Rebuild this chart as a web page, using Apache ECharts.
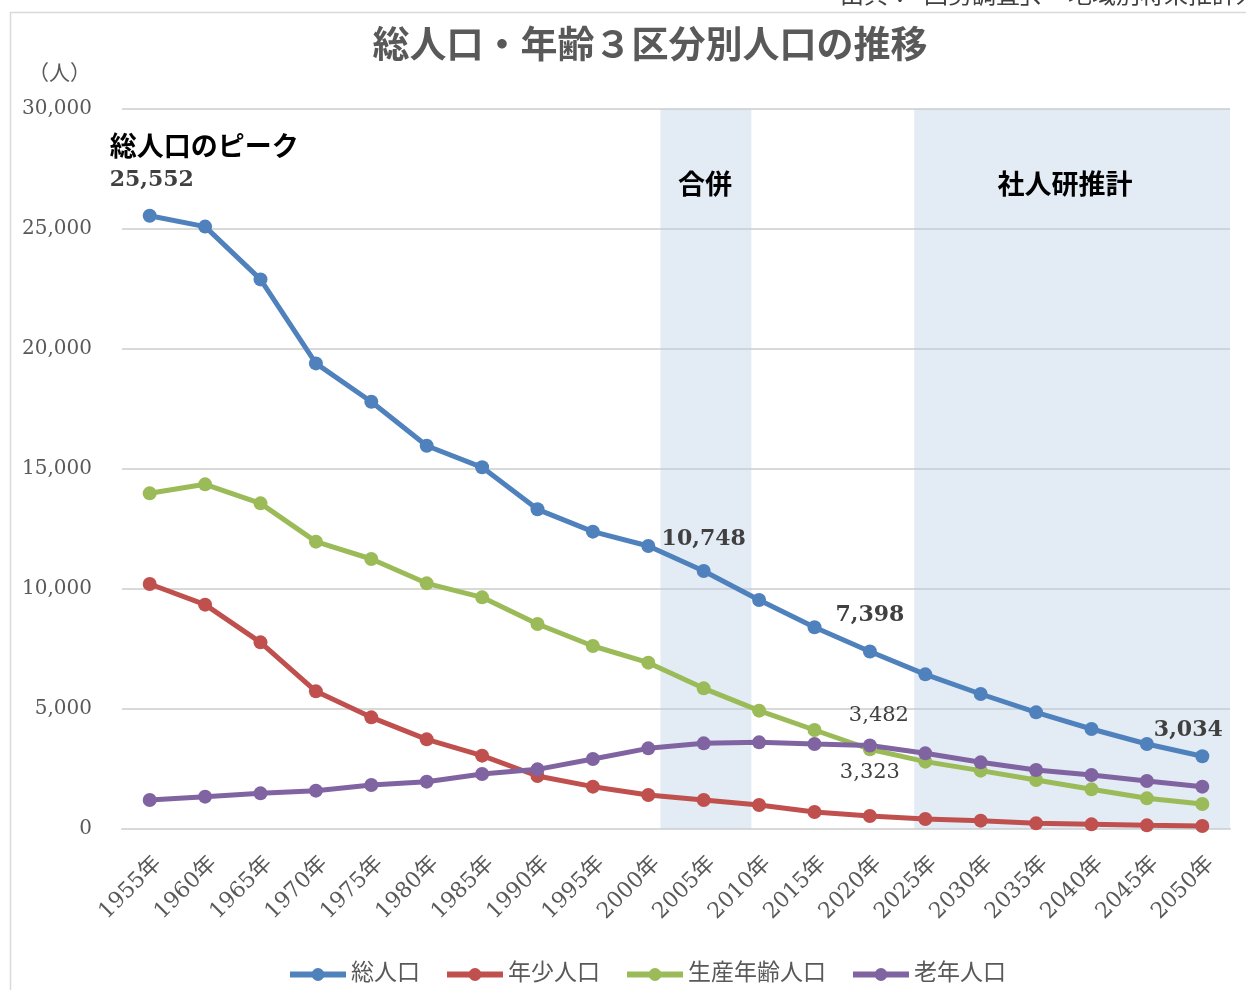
<!DOCTYPE html>
<html>
<head>
<meta charset="utf-8">
<title>総人口・年齢3区分別人口の推移</title>
<script src="https://cdn.jsdelivr.net/npm/echarts@6/dist/echarts.min.js"></script>
<style>
  html, body { margin: 0; padding: 0; background: #fff; }
  #chart { width: 1246px; height: 990px; }
</style>
</head>
<body>
<div id="chart"></div>
<script>
// 年次
const yearNums = [1955, 1960, 1965, 1970, 1975, 1980, 1985, 1990, 1995, 2000,
  2005, 2010, 2015, 2020, 2025, 2030, 2035, 2040, 2045, 2050]
const years = yearNums.map(y => y + '年')

// 人口（人）
const totalPop = [25552, 25100, 22900, 19400, 17800, 15970, 15070, 13320, 12390, 11790,
  10748, 9540, 8404, 7398, 6444, 5625, 4861, 4167, 3542, 3034]
const youthPop = [10208, 9347, 7778, 5736, 4653, 3736, 3056, 2208, 1764, 1417,
  1208, 1000, 708, 542, 417, 347, 236, 194, 153, 125]
const workingPop = [13986, 14361, 13569, 11972, 11250, 10236, 9653, 8542, 7625, 6931,
  5861, 4931, 4125, 3323, 2806, 2431, 2042, 1653, 1278, 1042]
const elderlyPop = [1208, 1347, 1486, 1597, 1833, 1972, 2292, 2486, 2917, 3361,
  3569, 3611, 3542, 3482, 3153, 2778, 2458, 2250, 2000, 1764]

const seriesNames = ['総人口', '年少人口', '生産年齢人口', '老年人口']
const seriesColors = ['#4F81BD', '#C0504D', '#9BBB59', '#8064A2']

// 網掛け期間（年）
const shadeBands = [
  { name: '合併', from: 2001.1, to: 2009.3 },
  { name: '社人研推計', from: 2024, to: 2052.5 }
]

const yTicks = [0, 5000, 10000, 15000, 20000, 25000, 30000]

const serif = '"DejaVu Serif", "Noto Sans CJK JP", serif'
const fmt = v => v.toLocaleString('en-US')

// 数値ラベル
const strongLabel = { show: true, position: 'top', distance: 14, fontFamily: serif,
  fontSize: 22, fontWeight: 'bold', color: '#404040', formatter: p => fmt(p.value) }
const plainLabel = { show: true, fontFamily: serif, fontSize: 21, color: '#404040',
  formatter: p => fmt(p.value) }

const labelFor = {
  0: {
    0: {
      show: true, position: 'top', align: 'left', offset: [-40, 0], distance: 13,
      formatter: p => '{a|総人口のピーク}\n{b|' + fmt(p.value) + '}',
      rich: {
        a: { fontFamily: serif, fontSize: 27, fontWeight: 'bold', color: '#000', lineHeight: 33 },
        b: { fontFamily: serif, fontSize: 22, fontWeight: 'bold', color: '#404040', lineHeight: 30 }
      }
    },
    10: strongLabel,
    13: Object.assign({}, strongLabel, { distance: 18 }),
    19: Object.assign({}, strongLabel, { offset: [-14, 0], distance: 8 })
  },
  2: { 13: Object.assign({}, plainLabel, { position: 'bottom', distance: 6 }) },
  3: { 13: Object.assign({}, plainLabel, { position: 'top', distance: 12, offset: [9, 0] }) }
}

const lineData = [totalPop, youthPop, workingPop, elderlyPop]

const lineSeries = lineData.map((vals, si) => ({
  name: seriesNames[si],
  type: 'line',
  z: 3,
  symbol: 'circle',
  symbolSize: 14,
  lineStyle: { width: 5, color: seriesColors[si] },
  itemStyle: { color: seriesColors[si] },
  data: vals.map((v, i) => {
    const lab = labelFor[si] && labelFor[si][i]
    return lab ? { value: v, label: lab } : v
  })
}))

const chart = echarts.init(document.getElementById('chart'))

chart.setOption({
  backgroundColor: '#fff',
  animation: false,
  title: {
    text: '総人口・年齢３区分別人口の推移',
    left: 645,
    top: 25,
    textAlign: 'center',
    textStyle: { fontFamily: serif, fontSize: 37, fontWeight: 'bold', color: '#595959' }
  },
  graphic: [
    {
      type: 'rect', silent: true, z: -10,
      shape: { x: 10.5, y: 12.5, width: 1400, height: 1100 },
      style: { fill: 'none', stroke: '#D9D9D9', lineWidth: 1.5 }
    },
    {
      type: 'text', x: 840, y: 9, silent: true,
      style: { text: '出典：「国勢調査」、「地域別将来推計人口」', fontFamily: serif,
        fontSize: 24, fill: '#404040', verticalAlign: 'bottom' }
    },
    {
      type: 'text', x: 28, y: 64, silent: true,
      style: { text: '（人）', fontFamily: serif, fontSize: 21, fill: '#595959' }
    }
  ],
  legend: {
    data: seriesNames,
    left: 282,
    top: 958,
    itemWidth: 56,
    itemHeight: 16,
    itemGap: 24,
    lineStyle: { width: 6 },
    textStyle: { fontFamily: serif, fontSize: 23, color: '#595959' }
  },
  grid: { left: 122, right: 16, top: 109, bottom: 161 },
  xAxis: [
    {
      type: 'category',
      data: years,
      boundaryGap: true,
      axisLine: { lineStyle: { color: '#D9D9D9', width: 2 } },
      axisTick: { show: false },
      axisLabel: { rotate: 45, margin: 40, padding: [0, -12, 0, 0], fontFamily: serif,
        fontSize: 22, color: '#595959', interval: 0 }
    },
    {
      type: 'value',
      show: false,
      min: yearNums[0] - 2.5,
      max: yearNums[yearNums.length - 1] + 2.5
    }
  ],
  yAxis: {
    type: 'value',
    min: yTicks[0],
    max: yTicks[yTicks.length - 1],
    interval: yTicks[1] - yTicks[0],
    axisLine: { show: false },
    axisTick: { show: false },
    splitLine: { lineStyle: { color: '#D9D9D9', width: 2 } },
    axisLabel: { margin: 30, fontFamily: serif, fontSize: 20, color: '#595959', formatter: v => fmt(v) }
  },
  series: [
    {
      name: 'shade',
      type: 'line',
      xAxisIndex: 1,
      data: [],
      z: 1,
      silent: true,
      markArea: {
        silent: true,
        itemStyle: { color: 'rgba(184, 204, 228, 0.4)' },
        label: {
          position: 'insideTop', distance: 64, fontFamily: serif,
          fontSize: 27, fontWeight: 'bold', color: '#000'
        },
        data: shadeBands.map((b, i) => [
          { xAxis: b.from, name: b.name, label: { offset: [i === 1 ? -7 : -1, 0] } },
          { xAxis: b.to }
        ])
      }
    }
  ].concat(lineSeries)
})
</script>
</body>
</html>
